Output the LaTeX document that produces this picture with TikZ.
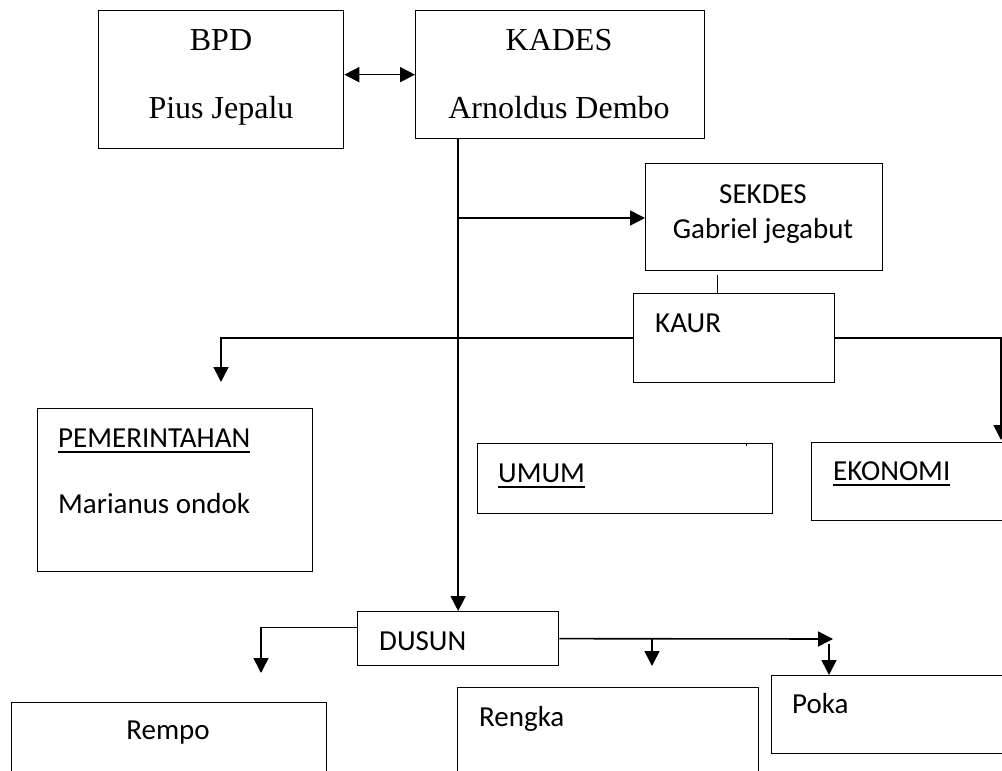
\documentclass[tikz,border=0pt]{standalone}
\usepackage{fontspec}
\setmainfont{Carlito}
\newfontfamily\timesfont{Liberation Serif}
\usetikzlibrary{arrows.meta}

\tikzset{
  box/.style={draw, line width=1.3pt, anchor=north west, inner sep=0pt},
  lbl/.style={anchor=base west, inner sep=0pt, font=\fontsize{29}{34}\selectfont},
  midlbl/.style={anchor=base, inner sep=0pt, font=\fontsize{29}{34}\selectfont},
  serif/.style={anchor=base, inner sep=0pt, font=\timesfont\fontsize{32}{37}\selectfont},
  line/.style={line width=1.5pt},
  link/.style={line width=1.6pt, -{Triangle[length=15pt,width=15pt]}},
  ulin/.style={line width=1.8pt},
}

\begin{document}
\begin{tikzpicture}[x=1pt, y=-1pt]
    \useasboundingbox (0,0) rectangle (1002,771);
    \clip (0,0) rectangle (1002,771);

    % boxes
    \node[box, minimum width=245pt, minimum height=138pt] (bpd) at (98,10) {};
    \node[box, minimum width=289pt, minimum height=128pt] (kades) at (415,10) {};
    \node[box, minimum width=237pt, minimum height=107pt] (sekdes) at (645,163) {};
    \node[box, minimum width=201pt, minimum height=89pt] (kaur) at (633,293) {};
    \node[box, minimum width=275pt, minimum height=163pt] (pemerintahan) at (37,408) {};
    \node[box, minimum width=295pt, minimum height=70pt] (umum) at (477,443) {};
    \node[box, minimum width=230pt, minimum height=78pt] (ekonomi) at (811,442) {};
    \node[box, minimum width=201pt, minimum height=54pt] (dusun) at (357,611) {};
    \node[box, minimum width=315pt, minimum height=120pt] (rempo) at (11,702) {};
    \node[box, minimum width=301pt, minimum height=120pt] (rengka) at (457,687) {};
    \node[box, minimum width=260pt, minimum height=78pt] (poka) at (771,675) {};

    % texts
    \node[serif] (bpdtxt) at (221,50) {BPD};
    \node[serif] (piustxt) at (221,118) {Pius Jepalu};
    \node[serif] (kadestxt) at (559,50) {KADES};
    \node[serif] (arnotxt) at (559,118) {Arnoldus Dembo};
    \node[midlbl] (sekdestxt) at (763,203) {SEKDES};
    \node[midlbl] (gabtxt) at (763,238) {Gabriel jegabut};
    \node[lbl] (kaurtxt) at (655,332) {KAUR};
    \node[lbl] (pemtxt) at (58,447) {PEMERINTAHAN};
    \node[lbl] (martxt) at (58,513) {Marianus ondok};
    \node[lbl] (umumtxt) at (498,482) {UMUM};
    \node[lbl] (ekotxt) at (833,480) {EKONOMI};
    \node[lbl] (dusuntxt) at (379,650) {DUSUN};
    \node[midlbl] (rempotxt) at (168,739) {Rempo};
    \node[lbl] (rengkatxt) at (479,726) {Rengka};
    \node[lbl] (pokatxt) at (792,713) {Poka};

    % underlines
    \draw[ulin] ([yshift=-5pt]pemtxt.base west) -- ([yshift=-5pt]pemtxt.base east);
    \draw[ulin] ([yshift=-5pt]umumtxt.base west) -- ([yshift=-5pt]umumtxt.base east);
    \draw[ulin] ([yshift=-5pt]ekotxt.base west) -- ([yshift=-5pt]ekotxt.base east);

    % arrow ends
    \coordinate (pemtip) at (221,382);
    \coordinate (ekotip) at (1001,440);
    \coordinate (rempotip) at (261,673);
    \coordinate (pokaend) at (833,639);
    \coordinate (rengkatip) at (652,666);
    \coordinate (pokatop) at (829,644);

    % connectors
    \draw[line width=1.6pt, {Triangle[length=15pt,width=15pt]}-{Triangle[length=15pt,width=15pt]}]
        ([yshift=5pt]bpd.east) -- ([yshift=5pt]bpd.east -| kades.west);
    \draw[link] (dusun.north |- kades.south) -- (dusun.north);
    \draw[link] (dusun.north |- 0,218) -- (sekdes.west |- 0,218);
    \draw[line] ([xshift=-16.5pt]kaur.north) -- ++(0,-18);
    \draw[link] (kaur.west) -| (pemtip);
    \draw[link] (kaur.east) -| (ekotip);
    \draw[link] ([yshift=11pt]dusun.west) -| (rempotip);
    \draw[link] (dusun.east) -- (pokaend);
    \draw[link] (rengkatip |- dusun.east) -- (rengkatip);
    \draw[link] (pokatop) -- (pokatop |- poka.north);
    \draw[line width=1pt] ([xshift=-27pt]umum.north east) -- ++(0,3);
\end{tikzpicture}
\end{document}
